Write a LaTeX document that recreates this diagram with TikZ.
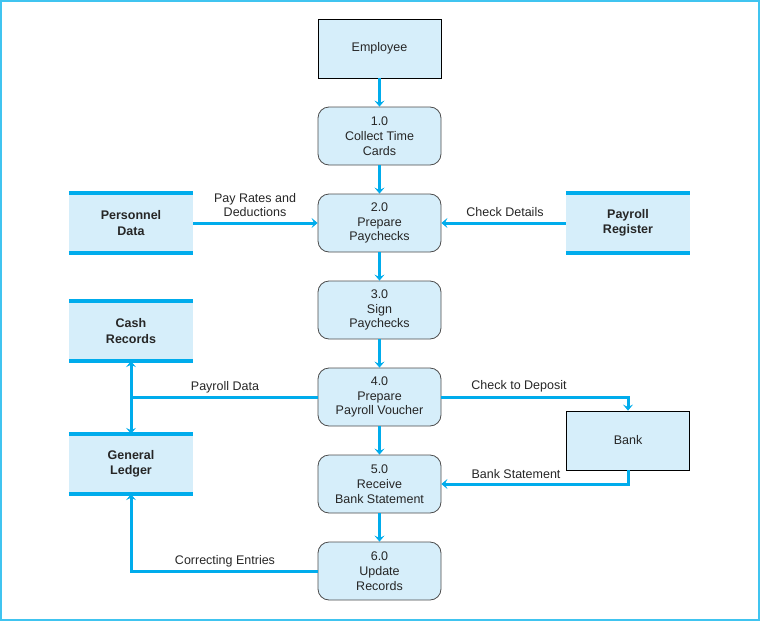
\documentclass[tikz,border=0pt]{standalone}
\usepackage{fontspec}
\setmainfont{Liberation Sans}
\usetikzlibrary{arrows.meta}
\definecolor{flowc}{RGB}{0,172,236}
\definecolor{boxfill}{RGB}{214,238,250}
\definecolor{framec}{RGB}{64,196,240}
\begin{document}
\begin{tikzpicture}[x=1pt,y=-1pt,
  txt/.style={font=\fontsize{12.5}{14.8}\selectfont, align=center, inner sep=0pt, text=black!85},
  entity/.style={txt, draw=black, line width=0.8pt, fill=boxfill, minimum width=123pt, minimum height=59pt},
  proc/.style={txt, draw=black!70, line width=0.8pt, fill=boxfill, rounded corners=11pt, minimum width=123pt, minimum height=58pt},
  store/.style={txt, font=\fontsize{12.5}{15.5}\selectfont\bfseries, fill=boxfill, minimum width=124pt, minimum height=60pt},
  storeline/.style={draw=flowc, line width=3.5pt},
  flowline/.style={draw=flowc, line width=3pt, -{Stealth[length=6pt,width=10pt,inset=2.5pt]}},
  plainline/.style={draw=flowc, line width=3pt},
  lbl/.style={txt}
]
\useasboundingbox (0,0) rectangle (760,621);
\draw[framec, line width=2pt] (1,1) rectangle (759,620);

% external entities
\node[entity] (emp) at (379.5,48.5) {Employee};
\node[entity] (bank) at (628,440.5) {Bank};

% processes
\node[proc] (p1) at (379.5,136) {1.0\\Collect Time\\Cards};
\node[proc] (p2) at (379.5,223) {2.0\\Prepare\\Paychecks};
\node[proc] (p3) at (379.5,310) {3.0\\Sign\\Paychecks};
\node[proc] (p4) at (379.5,397) {4.0\\Prepare\\Payroll Voucher};
\node[proc] (p5) at (379.5,484) {5.0\\Receive\\Bank Statement};
\node[proc] (p6) at (379.5,571) {6.0\\Update\\Records};

% data stores
\node[store] (pd) at (131,223) {Personnel\\Data};
\node[store] (pr) at (628,223) {Payroll\\Register};
\node[store] (cr) at (131,331) {Cash\\Records};
\node[store] (gl) at (131,464) {General\\Ledger};
\foreach \s in {pd,pr,cr,gl}{
  \draw[storeline] (\s.north west) -- (\s.north east);
  \draw[storeline] (\s.south west) -- (\s.south east);
}

% flows
\draw[flowline] (emp) -- (p1);
\draw[flowline] (p1) -- (p2);
\draw[flowline] (p2) -- (p3);
\draw[flowline] (p3) -- (p4);
\draw[flowline] (p4) -- (p5);
\draw[flowline] (p5) -- (p6);
\draw[flowline] (pd) -- (p2);
\draw[flowline] (pr) -- (p2);

\coordinate (j1) at (131,397);
\draw[plainline] (p4.west) -- (j1);
\draw[flowline] (j1) -- (cr.south);
\draw[flowline] (j1) -- (gl.north);

\draw[flowline] (p4.east) -| (bank.north);
\draw[flowline] (bank.south) |- (p5.east);
\draw[flowline] (p6.west) -| (gl.south);

% labels
\node[lbl] (l1) at (255,205) {Pay Rates and\\Deductions};
\node[lbl] (l2) at (505,212) {Check Details};
\node[lbl] (l3) at (225,387) {Payroll Data};
\node[lbl] (l4) at (519,386) {Check to Deposit};
\node[lbl] (l5) at (516,474) {Bank Statement};
\node[lbl] (l6) at (225,561) {Correcting Entries};
\end{tikzpicture}
\end{document}
